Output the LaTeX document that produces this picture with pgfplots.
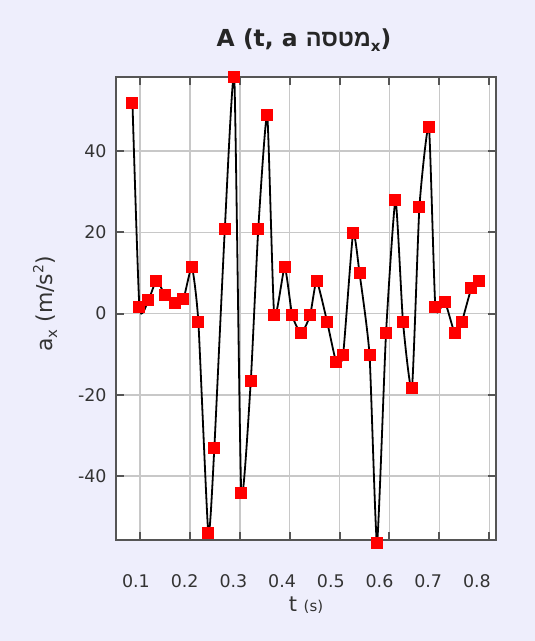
\documentclass[border=0pt]{standalone}
\usepackage{fontspec}
\setmainfont{DejaVu Sans}
\newfontfamily\hebfont[Script=Hebrew]{Liberation Sans}
\TeXXeTstate=1
\usepackage{pgfplots}
\pgfplotsset{compat=1.18}
\definecolor{bglav}{HTML}{EEEEFC}
\definecolor{axgray}{HTML}{555555}
\definecolor{gridgray}{HTML}{C8C8C8}
\definecolor{mkred}{HTML}{FF0000}

\pgfplotstableread{
t a
0.085 51.7
0.099 1.5
0.117 3.3
0.133 8.1
0.151 4.5
0.171 2.7
0.187 3.5
0.204 11.4
0.217 -2.0
0.237 -54.1
0.249 -33.1
0.270 20.7
0.289 58.1
0.303 -44.1
0.322 -16.7
0.337 20.7
0.355 48.8
0.369 -0.4
0.390 11.4
0.405 -0.4
0.423 -4.9
0.441 -0.4
0.454 8.0
0.475 -2.0
0.493 -11.8
0.507 -10.2
0.527 19.7
0.540 9.9
0.560 -10.2
0.575 -56.4
0.593 -4.9
0.612 27.9
0.627 -2.0
0.645 -18.4
0.660 26.3
0.679 45.9
0.692 1.5
0.711 2.9
0.731 -4.9
0.745 -2.0
0.764 6.2
0.779 8.0
}\accdata

\begin{document}
\begin{tikzpicture}
\fill[bglav] (0,0) rectangle (535bp,641bp);
\begin{axis}[
  at={(116bp,101bp)}, anchor=south west,
  width=380bp, height=463bp, scale only axis,
  xmin=0.052, xmax=0.8134,
  ymin=-55.7, ymax=58.2,
  xtick={0.1,0.2,...,0.8},
  ytick={-40,-20,0,20,40},
  xticklabel style={/pgf/number format/fixed, /pgf/number format/precision=1,
    /pgf/number format/fixed zerofill, yshift=-31bp, xshift=-4bp-1.2bp*\ticknum},
  yticklabel style={xshift=-6bp},
  /pgf/number format/assume math mode=true,
  tick label style={font=\fontsize{17.5}{17.5}\selectfont, text=black!80},
  axis background/.style={fill=white},
  axis line style={draw=axgray, line width=2.5bp},
  tick style={draw=axgray, line width=2bp},
  major tick length=8bp,
  tick align=inside, tick pos=both,
  grid=major,
  grid style={draw=gridgray, line width=1.5bp},
  clip=false,
]
\addplot[black, line width=1.8bp, smooth, tension=0.3,
  mark=square*, mark size=5.5bp,
  mark options={fill=mkred, draw=mkred, line width=0pt}]
  table[x=t, y=a] {\accdata};
\end{axis}
\node[font=\bfseries\fontsize{23.5}{23.5}\selectfont, text=black!85] at (304bp,601bp)
  {A (t, a {\hebfont\beginR מטסה\endR}\raisebox{-0.35ex}{\fontsize{15}{15}\selectfont x})};
\node[font=\fontsize{21}{21}\selectfont, text=black!80] at (306bp,36bp)
  {t {\fontsize{15}{15}\selectfont(s)}};
\node[font=\fontsize{22}{22}\selectfont, text=black!80, rotate=90] at (45bp,337bp)
  {a\raisebox{-0.35ex}{\fontsize{15}{15}\selectfont x} (m/s\raisebox{0.8ex}{\fontsize{14}{14}\selectfont 2})};
\end{tikzpicture}
\end{document}
